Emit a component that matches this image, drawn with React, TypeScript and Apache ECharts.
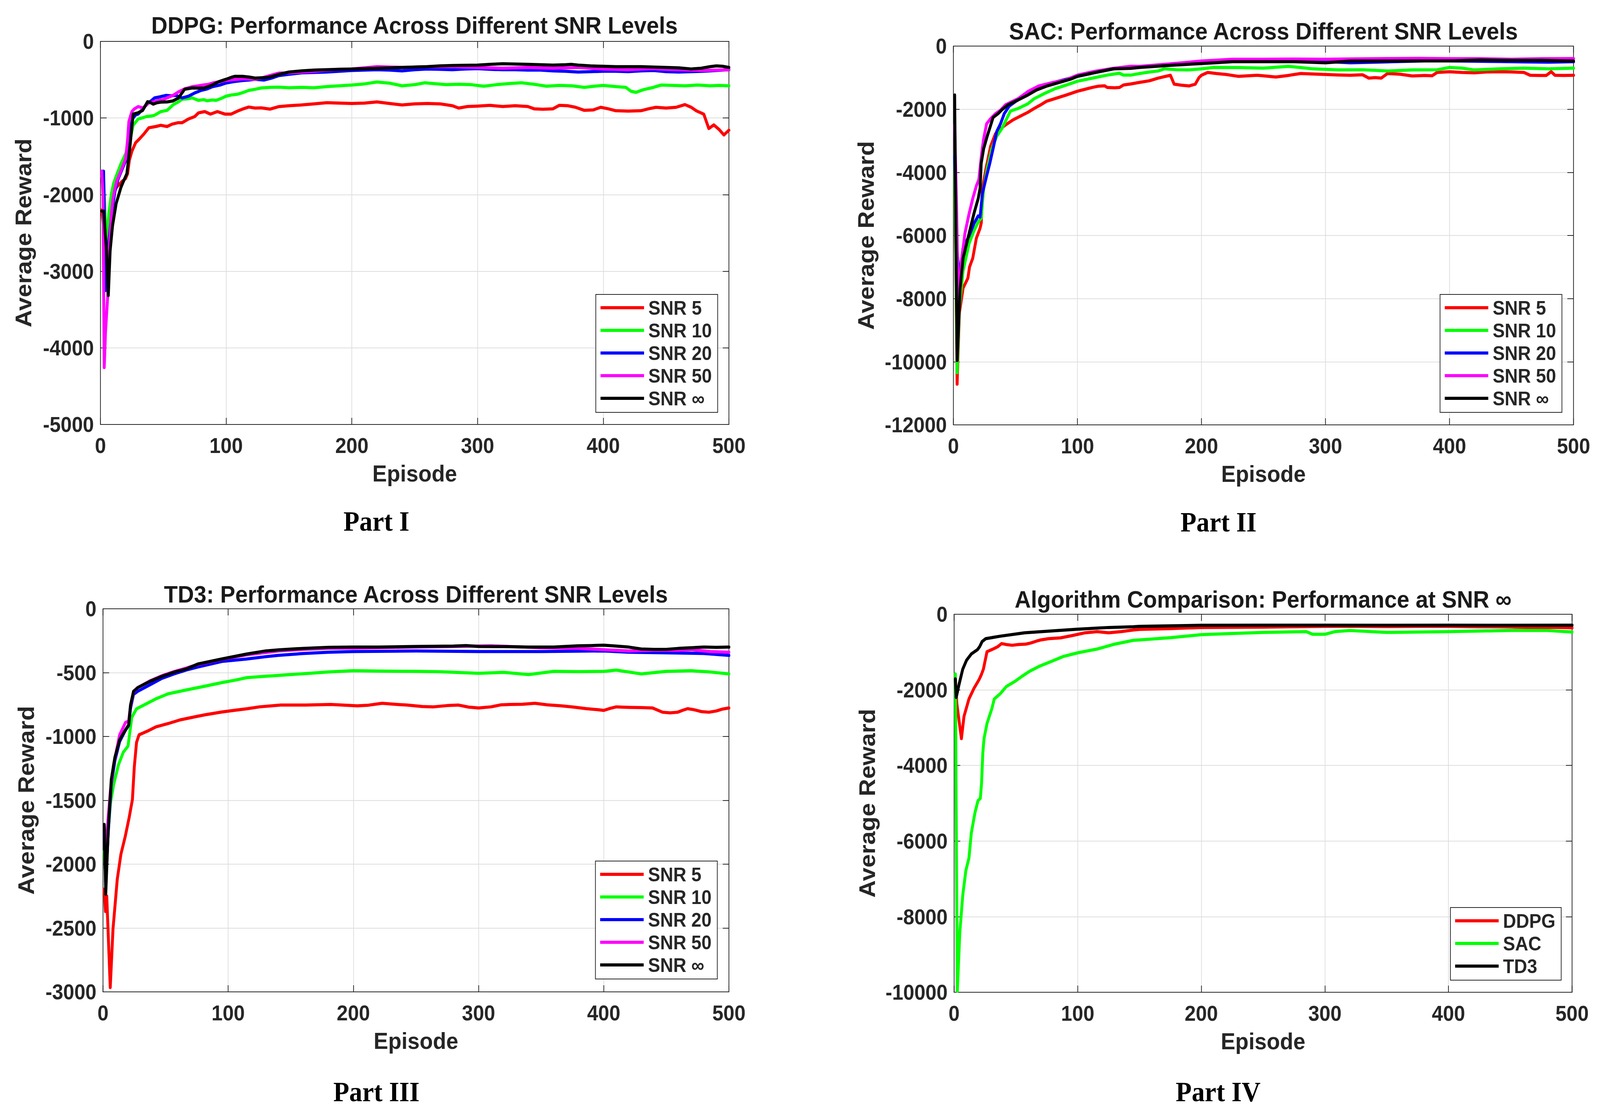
import React, { useEffect, useRef } from 'react';
import * as echarts from 'echarts';

// ---------------- DATA (episode, average reward) ----------------
// Part I : DDPG
const DDPG_SNR5 = [[1,-2200],[3,-2500],[5,-2700],[6,-2600],[8,-2246],[10,-1990],[13,-1900],[17,-1830],[20,-1790],[21.6,-1727],[23,-1550],[25,-1435],[28,-1322],[31,-1273],[34.6,-1208],[38.5,-1127],[41,-1120],[44,-1111],[48,-1095],[53,-1111],[57,-1080],[61.5,-1062],[65,-1062],[70,-1013],[75,-981],[78,-933],[83,-916],[87.5,-949],[93,-916],[99,-949],[104,-949],[109,-910],[113,-884],[118,-857],[123,-870],[128,-868],[135,-884],[142,-851],[150,-840],[160,-830],[170,-815],[180,-800],[190,-805],[200,-810],[210,-805],[220,-790],[230,-810],[240,-830],[250,-815],[260,-810],[270,-815],[280,-840],[285,-870],[292,-850],[300,-845],[310,-835],[320,-850],[330,-840],[340,-850],[345,-880],[352,-885],[360,-880],[365,-835],[372,-840],[378,-860],[385,-900],[392,-895],[398,-860],[404,-880],[410,-905],[420,-910],[430,-905],[436,-880],[442,-860],[450,-870],[458,-860],[465,-825],[470,-860],[474,-905],[480,-950],[484,-1137],[488,-1090],[492,-1147],[496,-1221],[500,-1160]];
const DDPG_SNR10 = [[1,-1760],[2.4,-1760],[4.8,-2668],[6.7,-2246],[8.7,-1987],[10.5,-1850],[12.5,-1760],[16.3,-1597],[20,-1468],[23,-1338],[26,-1095],[30,-1013],[33,-1000],[36.5,-981],[40,-975],[43,-965],[48,-916],[53,-900],[58,-825],[62,-790],[65,-754],[69,-750],[73,-738],[78,-770],[82,-760],[85,-775],[89,-765],[92,-770],[96,-745],[100,-715],[104,-700],[109,-690],[113,-670],[118,-640],[123,-625],[128,-608],[135,-600],[142,-598],[150,-605],[160,-600],[170,-605],[180,-590],[190,-580],[200,-570],[210,-555],[220,-530],[230,-545],[240,-580],[250,-565],[258,-540],[265,-550],[275,-565],[285,-560],[295,-565],[305,-585],[315,-565],[325,-550],[335,-540],[345,-560],[355,-585],[365,-575],[375,-580],[385,-600],[393,-585],[400,-575],[410,-590],[418,-600],[422,-650],[426,-665],[432,-630],[440,-600],[446,-570],[455,-575],[465,-580],[475,-570],[485,-580],[492,-575],[500,-580]];
const DDPG_SNR20 = [[1,-1695],[2.5,-1695],[4.3,-3252],[6,-2700],[9,-2246],[11.5,-1960],[14,-1800],[17,-1680],[20,-1560],[22,-1400],[24,-1100],[26,-1000],[28,-960],[30,-949],[34,-880],[37.5,-800],[40,-780],[43,-738],[47,-725],[52,-705],[56,-710],[60,-705],[65,-738],[70,-715],[75,-673],[80,-640],[85,-620],[89,-592],[95,-570],[100,-543],[106,-525],[113,-511],[118,-505],[123,-494],[130,-505],[136,-480],[142,-446],[150,-430],[160,-410],[170,-405],[180,-400],[190,-390],[200,-380],[210,-375],[220,-370],[230,-375],[240,-385],[250,-370],[260,-360],[270,-365],[280,-370],[290,-360],[300,-355],[310,-365],[320,-370],[330,-370],[340,-375],[350,-375],[360,-385],[370,-390],[380,-400],[390,-395],[400,-390],[410,-390],[420,-395],[430,-385],[440,-380],[450,-395],[460,-400],[470,-395],[480,-390],[490,-380],[500,-370]];
const DDPG_SNR50 = [[1,-1695],[2,-2000],[3,-4257],[4,-3800],[5.8,-3317],[7,-2700],[8.7,-2246],[10,-2050],[11.5,-1922],[13,-1820],[15.4,-1727],[18,-1620],[20,-1532],[21.5,-1300],[22.6,-1046],[25,-916],[27,-880],[30,-851],[33.6,-868],[36,-840],[38.5,-803],[42,-790],[46,-770],[50,-760],[54,-730],[57.7,-705],[62,-660],[67,-620],[73,-592],[78,-580],[81.7,-569],[86,-560],[89.4,-543],[95,-525],[99,-511],[105,-500],[113,-488],[118,-490],[123,-494],[130,-470],[136,-440],[142,-414],[150,-410],[160,-400],[170,-390],[180,-375],[190,-365],[200,-360],[210,-345],[220,-330],[230,-335],[240,-340],[250,-335],[260,-330],[270,-330],[280,-330],[290,-335],[300,-340],[310,-345],[320,-350],[330,-345],[340,-340],[350,-345],[360,-350],[370,-345],[380,-340],[390,-350],[400,-360],[410,-365],[420,-370],[430,-360],[440,-355],[450,-365],[460,-370],[470,-375],[480,-380],[490,-375],[500,-370]];
const DDPG_SNRINF = [[1,-2214],[2.5,-2214],[4.8,-2733],[6.25,-3317],[7.7,-2733],[9.6,-2408],[12.5,-2116],[16.3,-1905],[19,-1800],[21,-1727],[23.5,-1370],[26,-949],[30,-932],[33.6,-900],[37.5,-787],[40,-800],[42,-819],[45,-800],[48,-793],[53,-790],[57.7,-777],[62,-740],[67,-624],[73,-608],[78,-610],[82.7,-608],[88,-576],[94,-527],[100,-494],[104,-470],[107,-456],[113,-456],[118,-465],[123,-479],[128,-475],[133,-470],[138,-450],[142,-430],[150,-400],[160,-385],[170,-375],[180,-370],[190,-365],[200,-360],[210,-355],[220,-350],[230,-345],[240,-340],[250,-335],[260,-330],[270,-320],[280,-315],[290,-312],[300,-310],[310,-300],[320,-292],[330,-295],[340,-300],[350,-305],[360,-310],[370,-305],[375,-300],[380,-310],[390,-320],[400,-325],[410,-330],[420,-330],[430,-330],[440,-335],[450,-340],[460,-345],[470,-360],[478,-350],[485,-330],[490,-320],[495,-325],[500,-340]];

// Part II : SAC
const SAC_SNR5 = [[1,-3500],[3,-10710],[4.8,-8460],[7.8,-7670],[11.7,-7350],[13,-7000],[15.6,-6720],[18.5,-6090],[21.5,-5770],[22.5,-5600],[23.4,-4510],[26.3,-3880],[30,-3170],[34,-2770],[38,-2620],[42,-2500],[48,-2340],[54,-2220],[60,-2100],[65,-1980],[70,-1870],[75,-1750],[83,-1650],[91,-1550],[100,-1430],[106,-1370],[112,-1310],[117,-1270],[122,-1260],[124,-1310],[130,-1320],[134,-1310],[137,-1235],[143,-1200],[150,-1150],[158,-1100],[165,-1015],[171,-960],[175,-925],[178,-1207],[184,-1240],[190,-1263],[195,-1207],[198,-1000],[200,-925],[205,-835],[212,-870],[220,-900],[230,-960],[238,-940],[245,-925],[252,-950],[260,-980],[270,-930],[280,-870],[290,-885],[300,-900],[310,-915],[320,-925],[330,-910],[335,-1015],[340,-1000],[345,-1015],[350,-870],[360,-890],[370,-947],[380,-930],[386,-940],[390,-835],[400,-812],[410,-835],[420,-846],[430,-820],[440,-812],[450,-820],[460,-835],[465,-925],[472,-930],[478,-930],[482,-812],[485,-925],[492,-930],[500,-925]];
const SAC_SNR10 = [[1,-3500],[3,-10350],[4.8,-8300],[7.8,-7120],[12.7,-6250],[16.6,-5850],[20.5,-5540],[22.4,-5460],[24.4,-4510],[27.3,-3880],[31,-3250],[35,-2850],[39,-2620],[43,-2300],[46,-2060],[52,-1980],[60,-1830],[65,-1670],[73,-1510],[82,-1350],[91,-1235],[100,-1115],[114,-1000],[124,-920],[134,-860],[137,-920],[143,-920],[150,-870],[160,-812],[165,-790],[170,-722],[180,-750],[190,-756],[200,-720],[210,-677],[230,-680],[250,-700],[270,-643],[280,-680],[290,-722],[310,-756],[330,-750],[350,-790],[370,-756],[390,-750],[400,-677],[410,-700],[420,-756],[440,-722],[460,-700],[480,-720],[500,-700]];
const SAC_SNR20 = [[1,-3500],[3,-6500],[4.4,-7120],[5.5,-7120],[7.8,-6400],[12.7,-6010],[16.6,-5620],[20,-5380],[21.5,-5420],[23.4,-4670],[26.3,-4190],[29.3,-3720],[32,-3250],[35,-2700],[38,-2460],[41,-2140],[45,-1900],[52,-1700],[60,-1500],[69,-1280],[80,-1160],[90,-1060],[100,-960],[114,-840],[129,-720],[143,-680],[150,-660],[175,-585],[200,-510],[225,-470],[250,-470],[275,-470],[300,-490],[320,-530],[340,-510],[360,-490],[380,-470],[400,-470],[420,-480],[440,-490],[460,-500],[480,-510],[500,-496]];
const SAC_SNR50 = [[1,-2500],[2.5,-5000],[4,-8300],[6.3,-6880],[9.3,-5930],[12.7,-5300],[15.6,-4830],[18.5,-4430],[20.5,-4230],[23,-3330],[24.4,-2930],[26.8,-2460],[30,-2300],[34,-2140],[38,-2030],[42,-1860],[52,-1670],[60.5,-1430],[69,-1260],[80,-1155],[90,-1080],[100,-920],[114,-800],[129,-705],[143,-640],[150,-643],[175,-564],[200,-474],[225,-417],[250,-417],[275,-410],[300,-417],[325,-405],[350,-395],[375,-390],[400,-400],[425,-400],[450,-417],[475,-400],[500,-395]];
const SAC_SNRINF = [[1,-1550],[3,-9960],[5.4,-7670],[7.8,-6720],[12.7,-5930],[16.6,-5300],[20,-4830],[21.5,-4510],[22.4,-3720],[24.4,-3250],[27.3,-2850],[29.8,-2540],[32,-2260],[36,-2140],[39,-2020],[44,-1860],[52,-1710],[60,-1550],[67,-1390],[75,-1270],[85,-1155],[95,-1040],[100,-958],[114,-840],[129,-720],[143,-705],[150,-677],[175,-609],[200,-553],[225,-496],[250,-496],[275,-496],[300,-530],[310,-500],[320,-474],[350,-474],[375,-470],[400,-470],[425,-440],[450,-450],[475,-451],[500,-474]];

// Part III : TD3
const TD3_SNR5 = [[1,-2196],[2,-2371],[3,-2250],[5.8,-2966],[8,-2508],[11.4,-2118],[14.3,-1923],[17.7,-1786],[21,-1630],[23.5,-1494],[25,-1240],[26.8,-1046],[28.8,-987],[35.5,-958],[42.3,-925],[52,-899],[61.6,-870],[71,-851],[81,-831],[95,-808],[105,-795],[115,-783],[125,-768],[142,-754],[162,-754],[182,-749],[203,-760],[212,-755],[223,-740],[233,-748],[243,-754],[255,-765],[264,-768],[275,-758],[284,-754],[292,-770],[300,-777],[310,-768],[318,-752],[325,-749],[335,-748],[345,-740],[355,-752],[366,-760],[376,-770],[386,-782],[395,-790],[400,-796],[405,-780],[410,-768],[420,-772],[430,-774],[439,-777],[447,-810],[453,-815],[459,-810],[463,-795],[467,-782],[472,-790],[478,-805],[484,-810],[490,-800],[495,-785],[500,-777]];
const TD3_SNR10 = [[1,-1900],[2.2,-2100],[4.6,-1689],[6,-1520],[8.5,-1377],[12.4,-1221],[16.2,-1124],[20,-1075],[23,-851],[26.8,-783],[32.6,-754],[42.3,-705],[52,-666],[66,-637],[81,-607],[95,-578],[105,-560],[115,-539],[130,-528],[150,-515],[165,-505],[180,-495],[200,-485],[220,-488],[250,-490],[270,-493],[300,-505],[320,-498],[340,-515],[360,-490],[380,-492],[400,-490],[410,-480],[420,-495],[430,-510],[450,-490],[470,-485],[485,-495],[500,-510]];
const TD3_SNR20 = [[1,-1750],[2.2,-2150],[4.2,-1750],[6.6,-1380],[9.5,-1190],[13.3,-1040],[18,-950],[20.5,-915],[22,-780],[24.4,-670],[27.8,-646],[37.5,-595],[47,-545],[56.8,-510],[66.4,-480],[76,-455],[95,-412],[115,-393],[130,-375],[140,-365],[160,-350],[180,-340],[200,-335],[250,-330],[300,-335],[350,-335],[380,-332],[400,-330],[420,-340],[450,-345],[480,-350],[500,-365]];
const TD3_SNR50 = [[1,-1700],[2.2,-1923],[4,-1650],[6,-1420],[8.5,-1221],[13.3,-987],[18,-890],[20.5,-880],[22,-760],[24.4,-650],[27.8,-617],[37.5,-565],[47,-525],[56.8,-492],[66.4,-465],[76,-435],[95,-395],[115,-360],[140,-330],[160,-318],[180,-310],[200,-308],[250,-300],[280,-295],[310,-290],[350,-305],[380,-310],[400,-320],[420,-330],[440,-325],[460,-325],[470,-320],[485,-335],[500,-340]];
const TD3_SNRINF = [[1,-1689],[2.2,-2235],[4.2,-1728],[6.6,-1338],[9.5,-1163],[13.3,-1026],[18,-948],[20.5,-909],[22,-753],[24.4,-646],[27.8,-617],[37.5,-568],[47,-529],[56.8,-496],[66.4,-471],[76,-432],[95,-393],[115,-354],[130,-330],[140,-322],[160,-310],[180,-302],[200,-300],[220,-300],[250,-295],[280,-292],[290,-288],[300,-295],[320,-296],[340,-300],[360,-300],[380,-290],[390,-288],[400,-285],[410,-292],[420,-300],[430,-315],[440,-318],[450,-318],[460,-310],[470,-305],[480,-300],[490,-302],[500,-300]];

// Part IV : comparison at SNR inf
const CMP_DDPG = [[1,-1710],[2.2,-2370],[5.9,-3290],[8,-2700],[12,-2240],[15.9,-1970],[20,-1740],[22,-1600],[23.7,-1450],[26.6,-990],[31.5,-920],[35.4,-855],[38.4,-776],[42,-800],[47,-820],[52,-800],[58,-790],[62,-760],[66.7,-710],[70,-680],[76.5,-645],[86,-625],[96,-560],[106,-490],[115.7,-460],[125,-490],[135,-460],[145,-415],[150,-400],[175,-380],[200,-350],[225,-345],[250,-340],[275,-330],[300,-320],[325,-320],[350,-325],[375,-320],[400,-320],[425,-330],[450,-335],[470,-360],[485,-345],[500,-360]];
const CMP_SAC = [[1,-1580],[2.6,-9970],[4.6,-8420],[7,-7430],[9.5,-6780],[12,-6450],[13.9,-5790],[16.8,-5260],[19.3,-4930],[21.2,-4870],[22.2,-4470],[23.2,-3680],[24.2,-3290],[26.6,-2890],[30.5,-2500],[32.5,-2240],[37.4,-2100],[42.3,-1910],[49,-1780],[55,-1640],[61,-1510],[68.7,-1380],[78.5,-1250],[88,-1120],[100,-1020],[115.7,-920],[130,-790],[145,-690],[150,-680],[175,-620],[200,-540],[225,-510],[250,-480],[285,-460],[290,-530],[300,-530],[308,-460],[320,-430],[350,-480],[400,-460],[450,-430],[480,-430],[500,-470]];
const CMP_TD3 = [[1,-1710],[1.7,-2200],[4.1,-1840],[7,-1450],[10,-1220],[13.9,-1050],[18.8,-940],[20.7,-855],[22.7,-720],[25.6,-645],[37.4,-580],[57,-490],[76.5,-447],[100,-395],[125,-350],[145,-330],[150,-320],[200,-292],[250,-290],[300,-290],[350,-292],[400,-290],[450,-292],[500,-290]];

const SNR_NAMES = ['SNR 5', 'SNR 10', 'SNR 20', 'SNR 50', 'SNR \u221e'];
const ALGO_NAMES = ['DDPG', 'SAC', 'TD3'];
const TITLES = [
  'DDPG: Performance Across Different SNR Levels',
  'SAC: Performance Across Different SNR Levels',
  'TD3: Performance Across Different SNR Levels',
  'Algorithm Comparison: Performance at SNR \u221e',
];
const PART_LABELS = ['Part I', 'Part II', 'Part III', 'Part IV'];
const Y_MIN = [-5000, -12000, -3000, -10000];
const Y_STEP = [1000, 2000, 500, 2000];
const X_MAX = 500;
const X_STEP = 100;

// ---------------- STYLE / LAYOUT ----------------
const W = 4412;
const H = 2863;
const SANS = '"Liberation Sans", Arial, Helvetica, sans-serif';
const SERIF = '"Liberation Serif", "Times New Roman", serif';
const INK = '#262626';
const RED = '#ff0000', GREEN = '#00ff00', BLUE = '#0000ff', MAGENTA = '#ff00ff', BLACK = '#000000';
const SNR_COLORS = [RED, GREEN, BLUE, MAGENTA, BLACK];
const ALGO_COLORS = [RED, GREEN, BLACK];

const GRIDS = [
  { left: 277, top: 106, width: 1733, height: 981 },
  { left: 2629, top: 118, width: 1710, height: 970 },
  { left: 284, top: 1559, width: 1726, height: 981 },
  { left: 2631, top: 1573, width: 1704, height: 968 },
];
const Y_NAME_GAP = [181, 210, 181, 208];
const TITLE_POS = [[1143, 65], [3484, 80], [1147, 1522], [3483, 1535]];
const PART_POS = [[1038, 1335], [3360, 1337], [1038, 2796], [3359, 2796]];
const LEGEND_POS = [
  { right: 2433, bottom: 1807 },
  { right: 105, bottom: 1807 },
  { right: 2434, bottom: 356 },
  { right: 107, bottom: 353 },
];

const PANEL_DATA = [
  [DDPG_SNR5, DDPG_SNR10, DDPG_SNR20, DDPG_SNR50, DDPG_SNRINF],
  [SAC_SNR5, SAC_SNR10, SAC_SNR20, SAC_SNR50, SAC_SNRINF],
  [TD3_SNR5, TD3_SNR10, TD3_SNR20, TD3_SNR50, TD3_SNRINF],
  [CMP_DDPG, CMP_SAC, CMP_TD3],
];

function buildOption() {
  const grid: any[] = [];
  const xAxis: any[] = [];
  const yAxis: any[] = [];
  const series: any[] = [];
  const legend: any[] = [];
  const graphic: any[] = [];

  const tickLabel = {
    fontFamily: SANS, fontWeight: 'bold', fontSize: 55, color: INK,
    formatter: (v: number) => String(v),
  };

  GRIDS.forEach((g, i) => {
    grid.push({ ...g, containLabel: false });
    const axisLine = { show: true, onZero: false, lineStyle: { color: INK, width: 2 } };
    const axisTick = { show: true, inside: true, length: 17, lineStyle: { color: INK, width: 2 } };
    const splitLine = { show: true, lineStyle: { color: '#dedede', width: 2 } };
    xAxis.push({
      gridIndex: i, type: 'value', position: 'bottom', min: 0, max: X_MAX, interval: X_STEP,
      axisLine, axisTick, splitLine,
      axisLabel: { ...tickLabel, margin: 26 },
      name: 'Episode', nameLocation: 'middle', nameGap: 95,
      nameTextStyle: { fontFamily: SANS, fontWeight: 'bold', fontSize: 60, color: INK },
    });
    xAxis.push({
      gridIndex: i, type: 'value', position: 'top', min: 0, max: X_MAX, interval: X_STEP,
      axisLine, axisTick, splitLine: { show: false }, axisLabel: { show: false },
    });
    yAxis.push({
      gridIndex: i, type: 'value', position: 'left', min: Y_MIN[i], max: 0, interval: Y_STEP[i],
      axisLine, axisTick, splitLine,
      axisLabel: { ...tickLabel, margin: 18 },
      name: 'Average Reward', nameLocation: 'middle', nameGap: Y_NAME_GAP[i], nameRotate: 90,
      nameTextStyle: { fontFamily: SANS, fontWeight: 'bold', fontSize: 62, color: INK },
    });
    yAxis.push({
      gridIndex: i, type: 'value', position: 'right', min: Y_MIN[i], max: 0, interval: Y_STEP[i],
      axisLine, axisTick, splitLine: { show: false }, axisLabel: { show: false },
    });

    const names = i < 3 ? SNR_NAMES : ALGO_NAMES;
    const colors = i < 3 ? SNR_COLORS : ALGO_COLORS;
    PANEL_DATA[i].forEach((d, k) => {
      series.push({
        type: 'line', name: names[k], data: d, color: colors[k],
        xAxisIndex: 2 * i, yAxisIndex: 2 * i,
        showSymbol: false, symbol: 'none', smooth: false,
        lineStyle: { width: 8, color: colors[k], join: 'round', cap: 'round' },
        z: 2 + k,
      });
    });

    legend.push({
      ...LEGEND_POS[i], orient: 'vertical', data: names, icon: 'rect',
      itemWidth: 120, itemHeight: 8, itemGap: 0,
      padding: [5, 16, 7, 13],
      backgroundColor: '#ffffff', borderColor: INK, borderWidth: 2, borderRadius: 0,
      itemStyle: { borderWidth: 0 },
      selectedMode: false,
      textStyle: { fontFamily: SANS, fontWeight: 'bold', fontSize: 50, color: INK, lineHeight: 58, padding: [0, 0, 0, 7] },
      z: 20,
    });

    graphic.push({
      type: 'text', x: TITLE_POS[i][0], y: TITLE_POS[i][1], z: 30,
      style: { text: TITLES[i], fill: '#1a1a1a', font: `bold 62px ${SANS}`, align: 'center', verticalAlign: 'middle' },
    });
    graphic.push({
      type: 'text', x: PART_POS[i][0], y: PART_POS[i][1], z: 30,
      style: { text: PART_LABELS[i], fill: '#000000', font: `bold 72px ${SERIF}`, align: 'center', verticalAlign: 'middle' },
    });
  });

  return {
    animation: false,
    backgroundColor: '#ffffff',
    grid, xAxis, yAxis, series, legend, graphic,
  };
}

export default function App() {
  const ref = useRef<HTMLDivElement>(null);
  useEffect(() => {
    const el = ref.current;
    if (!el) return;
    document.body.style.margin = '0';
    document.body.style.overflow = 'hidden';
    document.documentElement.style.overflow = 'hidden';
    const fit = () => {
      const kx = window.innerWidth / W;
      const ky = window.innerHeight / H;
      el.style.transform = `scale(${kx}, ${ky})`;
    };
    fit();
    const chart = echarts.init(el, undefined, { renderer: 'svg', width: W, height: H });
    chart.setOption(buildOption() as any);
    window.addEventListener('resize', fit);
    return () => {
      window.removeEventListener('resize', fit);
      chart.dispose();
    };
  }, []);
  return (
    <div
      ref={ref}
      style={{
        position: 'fixed', left: 0, top: 0, width: W, height: H,
        background: '#ffffff', transformOrigin: '0 0',
      }}
    />
  );
}
